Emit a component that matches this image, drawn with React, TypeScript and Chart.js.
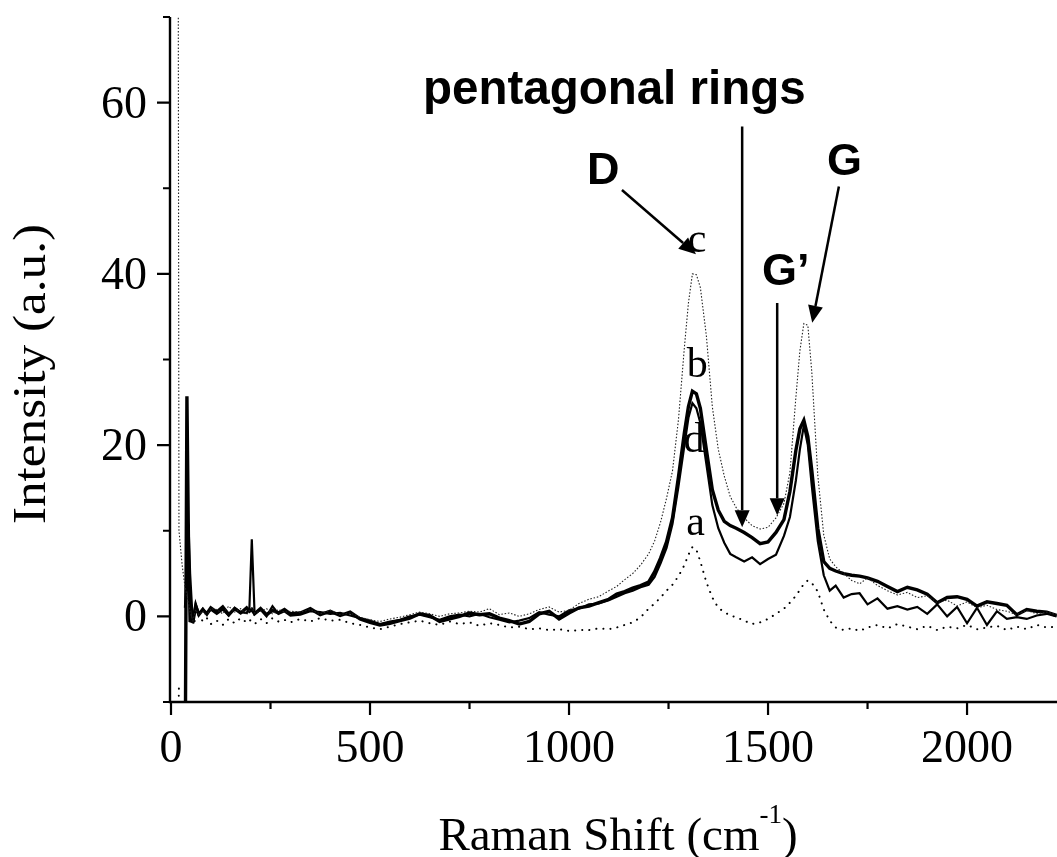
import { useEffect, useRef } from "react";
import { Chart, registerables } from "chart.js";

Chart.register(...registerables);

// Raman shift (cm-1) sample positions
const ramanShift = [
  12, 20, 28, 35, 40, 44, 48, 55, 62, 70, 80, 90, 100,
  115, 130, 145, 160, 175, 190, 197, 203, 210, 225, 240, 255, 270, 285, 300,
  325, 350, 375, 400, 425, 450, 475, 500, 525, 550, 575, 600, 625, 650, 675, 700,
  725, 750, 775, 800, 825, 850, 875, 900, 925, 950, 975, 1000, 1025, 1050, 1075, 1100,
  1120, 1140, 1160, 1180, 1200, 1215, 1230, 1245, 1260, 1275, 1290, 1300, 1310, 1320, 1330,
  1345, 1360, 1375, 1390, 1405, 1420, 1440, 1460, 1480, 1500, 1520, 1540, 1555, 1570, 1580,
  1590, 1600, 1610, 1625, 1640, 1655, 1670, 1690, 1710, 1730, 1750, 1775, 1800, 1825, 1850,
  1875, 1900, 1925, 1950, 1975, 2000, 2025, 2050, 2075, 2100, 2125, 2150, 2175, 2200, 2225,
];

// spectrum a (sparse dotted)
const spectrumA = [
  -30, -8, null, null, null, null, 0.5, -0.8, -0.4, 0.2, -0.6, -0.2, -0.9,
  -0.5, -1.0, -0.3, -0.8, -0.2, -0.7, -0.4, -0.6, -0.9, -0.3, -0.8, -0.2, -0.6, -0.4, -0.7,
  -0.3, -0.6, -0.2, -0.5, -0.4, -0.8, -1.0, -1.3, -1.5, -1.2, -0.9, -0.7, -0.5, -0.8, -1.0, -0.6,
  -0.9, -0.7, -1.1, -0.8, -1.0, -1.3, -1.2, -1.5, -1.4, -1.6, -1.5, -1.7, -1.6, -1.6, -1.4, -1.5,
  -1.3, -1.0, -0.7, -0.1, 0.9, 1.5, 2.2, 3.0, 3.7, 4.7, 6.0, 7.2, 8.1, 7.8, 6.4,
  4.0, 2.2, 1.0, 0.5, 0.1, -0.1, -0.5, -0.9, -0.7, -0.3, 0.3, 0.9, 1.6, 2.4, 3.1,
  3.8, 4.2, 3.9, 2.9, 0.8, -0.5, -1.3, -1.6, -1.4, -1.7, -1.3, -1.0, -1.4, -0.9, -1.2,
  -1.5, -1.1, -1.6, -1.2, -1.4, -1.0, -1.5, -1.3, -1.1, -1.6, -1.2, -1.5, -1.0, -1.3, -1.2,
];

// spectrum b (thick solid)
const spectrumB = [
  -40, -35, -30, -25, 25.7, 8, -0.5, -0.6, 1.2, 0.2, 0.8, 0.3, 1.0,
  0.5, 1.1, 0.2, 0.9, 0.4, 1.0, 0.6, 0.8, 0.3, 0.9, 0.2, 0.7, 0.4, 0.8, 0.3,
  0.4, 0.9, 0.2, 0.6, 0.1, 0.5, -0.3, -0.7, -1.0, -0.8, -0.5, -0.2, 0.3, 0.1, -0.6, -0.3,
  0.0, 0.4, 0.2, 0.3, -0.2, -0.5, -0.9, -0.6, 0.3, 0.6, -0.3, 0.4, 1.0, 1.2, 1.6, 2.0,
  2.6, 2.9, 3.3, 3.6, 4.0, 5.2, 6.8, 8.7, 11.5, 16.3, 21.5, 24.5, 26.3, 26.0, 24.3,
  19.5, 14.8, 12.4, 11.1, 10.6, 10.3, 9.8, 9.2, 8.5, 8.7, 9.8, 11.3, 14.6, 19.4, 21.9,
  22.9, 21.0, 17.0, 10.3, 6.4, 5.6, 5.3, 5.0, 4.8, 4.7, 4.5, 4.1, 3.5, 2.9, 3.4,
  3.1, 2.6, 1.6, 2.2, 2.3, 2.0, 1.2, 1.7, 1.5, 1.3, 0.2, 0.8, 0.6, 0.5, 0.1,
];

// spectrum c (fine dotted)
const spectrumC = [
  300, 10, 6, 3.5, 2.5, 1.5, 0.5, -0.5, 0.8, 0.2, 0.6, 0.0, 0.9,
  0.8, 0.3, 1.2, 0.5, 0.9, 0.2, 0.7, 1.0, 0.4, 0.6, 0.9, 0.3, 0.8, 0.5, 0.6,
  0.5, 0.8, 0.3, 0.7, 0.2, 0.4, -0.1, -0.4, -0.6, -0.3, -0.1, 0.2, 0.5, 0.3, 0.0, 0.3,
  0.4, 0.6, 0.5, 0.9, 0.2, 0.4, 0.0, 0.3, 0.8, 1.1, 0.5, 0.7, 1.5, 2.0, 2.3, 3.0,
  3.5, 4.3, 5.0, 6.0, 7.3, 8.8, 11.0, 13.8, 17.0, 23.0, 31.5, 36.6, 40.0, 39.9, 38.4,
  32.8, 24.5, 19.5, 16.4, 14.0, 12.7, 11.5, 10.6, 10.2, 10.4, 11.5, 13.2, 16.8, 25.6, 31.0,
  34.2, 34.0, 28.5, 16.5, 9.5, 6.7, 5.8, 5.0, 4.2, 3.8, 4.5, 3.6, 3.0, 2.5, 2.8,
  2.2, 2.4, 1.6, 1.9, 1.2, 1.7, 1.0, 1.3, 0.8, 0.6, 0.2, 0.7, 0.3, 0.5, 0.2,
];

// spectrum d (thin solid)
const spectrumD = [
  null, null, null, 1.0, 6.0, 10.8, 5.0, -0.8, 1.5, 0.3, 0.9, 0.2, 0.8,
  0.3, 0.8, 0.1, 1.0, 0.5, 0.4, 1.0, 9.0, 0.3, 0.8, 0.0, 1.2, 0.3, 0.6, 0.1,
  0.2, 0.6, 0.5, 0.3, 0.4, 0.1, -0.2, -0.5, -0.9, -0.6, -0.4, 0.0, 0.2, -0.1, -0.4, 0.0,
  0.2, 0.0, 0.3, -0.1, -0.4, -0.7, -0.5, -0.2, 0.5, 0.2, 0.0, 0.7, 0.9, 1.4, 1.5, 1.9,
  2.3, 2.7, 3.0, 3.4, 3.7, 4.6, 6.2, 8.0, 10.8, 15.2, 20.0, 23.2, 24.9, 24.3, 22.6,
  17.8, 13.0, 10.3, 8.6, 7.3, 6.9, 6.4, 6.9, 6.1, 6.7, 7.2, 9.4, 11.6, 15.9, 19.5,
  22.3, 20.0, 15.2, 8.8, 4.8, 3.0, 3.6, 2.2, 2.6, 2.7, 1.4, 2.1, 0.9, 1.2, 0.8,
  1.1, 0.3, 1.4, 0.0, 1.1, -0.8, 1.0, -1.0, 0.6, -0.3, -0.1, -0.3, 0.1, 0.3, 0.0,
];

const xTickLabels = [0, 500, 1000, 1500, 2000];
const xMinorTicks = [250, 750, 1250, 1750];
const yTickLabels = [0, 20, 40, 60];
const yMinorTicks = [-10, 10, 30, 50, 70];

const X_MIN = 0;
const X_MAX = 2226;
const Y_MIN = -10;
const Y_MAX = 70;

const SERIF = '"Liberation Serif", "Times New Roman", serif';
const SANS = '"Liberation Sans", Arial, sans-serif';

// annotation texts (data coordinates)
const boldLabels = [
  { text: "pentagonal rings", x: 633, y: 59.8, size: 47.5 },
  { text: "D", x: 1045, y: 50.5, size: 45 },
  { text: "G", x: 1648, y: 51.6, size: 45 },
  { text: "G\u2019", x: 1485, y: 38.7, size: 45 },
];
const curveLabels = [
  { text: "c", x: 1322, y: 42.5 },
  { text: "b", x: 1322, y: 28.0 },
  { text: "d", x: 1314, y: 19.2 },
  { text: "a", x: 1318, y: 9.5 },
];
const arrows = [
  { x1: 1133, y1: 49.8, x2: 1319, y2: 42.3 },
  { x1: 1435, y1: 57.2, x2: 1435, y2: 10.4 },
  { x1: 1523, y1: 36.6, x2: 1523, y2: 11.8 },
  { x1: 1678, y1: 50.2, x2: 1611, y2: 34.3 },
];

function toPoints(ys: (number | null)[]) {
  return ramanShift.map((x, i) => ({ x, y: ys[i] }));
}

function drawArrow(ctx: CanvasRenderingContext2D, x1: number, y1: number, x2: number, y2: number) {
  const ang = Math.atan2(y2 - y1, x2 - x1);
  const L = 17;
  const W = 7.5;
  const bx = x2 - L * Math.cos(ang);
  const by = y2 - L * Math.sin(ang);
  ctx.beginPath();
  ctx.moveTo(x1, y1);
  ctx.lineTo(bx, by);
  ctx.stroke();
  ctx.beginPath();
  ctx.moveTo(x2, y2);
  ctx.lineTo(bx + W * Math.sin(ang), by - W * Math.cos(ang));
  ctx.lineTo(bx - W * Math.sin(ang), by + W * Math.cos(ang));
  ctx.closePath();
  ctx.fill();
}

const decorPlugin = {
  id: "decor",
  afterDatasetsDraw(chart: any) {
    const { ctx, chartArea, scales } = chart;
    const xs = scales.x;
    const ys = scales.y;
    ctx.save();
    ctx.strokeStyle = "#000";
    ctx.fillStyle = "#000";

    // axes lines
    const axX = chartArea.left - 1;
    const axY = chartArea.bottom;
    ctx.lineWidth = 2.4;
    ctx.beginPath();
    ctx.moveTo(axX, chartArea.top);
    ctx.lineTo(axX, axY + 1.2);
    ctx.moveTo(axX - 1.2, axY);
    ctx.lineTo(chartArea.right, axY);
    ctx.stroke();

    // y ticks
    ctx.lineWidth = 2.2;
    ctx.beginPath();
    yTickLabels.forEach((v) => {
      const py = ys.getPixelForValue(v);
      ctx.moveTo(axX, py);
      ctx.lineTo(axX - 13, py);
    });
    yMinorTicks.forEach((v) => {
      const py = ys.getPixelForValue(v);
      ctx.moveTo(axX, py);
      ctx.lineTo(axX - 7, py);
    });
    // x ticks
    xTickLabels.forEach((v) => {
      const px = xs.getPixelForValue(v);
      ctx.moveTo(px, axY);
      ctx.lineTo(px, axY + 13);
    });
    xMinorTicks.forEach((v) => {
      const px = xs.getPixelForValue(v);
      ctx.moveTo(px, axY);
      ctx.lineTo(px, axY + 7);
    });
    ctx.stroke();

    // tick labels
    ctx.font = `46px ${SERIF}`;
    ctx.textAlign = "right";
    ctx.textBaseline = "alphabetic";
    yTickLabels.forEach((v) => {
      const py = ys.getPixelForValue(v);
      ctx.fillText(String(v), axX - 23, py + 15);
    });
    ctx.textAlign = "center";
    xTickLabels.forEach((v) => {
      const px = xs.getPixelForValue(v);
      ctx.fillText(String(v), px, axY + 60);
    });

    // y title
    ctx.save();
    ctx.translate(45, 374);
    ctx.rotate(-Math.PI / 2);
    ctx.scale(1.09, 1);
    ctx.font = `47px ${SERIF}`;
    ctx.textAlign = "center";
    ctx.fillText("Intensity (a.u.)", 0, 0);
    ctx.restore();

    // x title with superscript
    const mainFont = `47px ${SERIF}`;
    const supFont = `27px ${SERIF}`;
    const part1 = "Raman Shift (cm";
    const sup = "-1";
    const part2 = ")";
    ctx.font = mainFont;
    const w1 = ctx.measureText(part1).width;
    const w3 = ctx.measureText(part2).width;
    ctx.font = supFont;
    const w2 = ctx.measureText(sup).width;
    const total = w1 + w2 + w3;
    const cx = 618;
    const baseY = 850;
    let sx = cx - total / 2;
    ctx.textAlign = "left";
    ctx.font = mainFont;
    ctx.fillText(part1, sx, baseY);
    sx += w1;
    ctx.font = supFont;
    ctx.fillText(sup, sx, baseY - 27);
    sx += w2;
    ctx.font = mainFont;
    ctx.fillText(part2, sx, baseY);

    // annotations
    ctx.textAlign = "left";
    boldLabels.forEach((l) => {
      ctx.font = `bold ${l.size}px ${SANS}`;
      ctx.fillText(l.text, xs.getPixelForValue(l.x), ys.getPixelForValue(l.y));
    });
    ctx.font = `42px ${SERIF}`;
    ctx.textAlign = "center";
    curveLabels.forEach((l) => {
      ctx.fillText(l.text, xs.getPixelForValue(l.x), ys.getPixelForValue(l.y));
    });
    ctx.lineWidth = 2.5;
    arrows.forEach((a) => {
      drawArrow(
        ctx,
        xs.getPixelForValue(a.x1),
        ys.getPixelForValue(a.y1),
        xs.getPixelForValue(a.x2),
        ys.getPixelForValue(a.y2)
      );
    });
    ctx.restore();
  },
};

export default function App() {
  const canvasRef = useRef<HTMLCanvasElement | null>(null);

  useEffect(() => {
    document.body.style.margin = "0";
    const canvas = canvasRef.current;
    if (!canvas) return;
    const chart = new Chart(canvas, {
      type: "line",
      data: {
        datasets: [
          {
            label: "c",
            data: toPoints(spectrumC),
            borderColor: "#222",
            borderWidth: 1.1,
            borderDash: [1.5, 1.8],
            pointRadius: 0,
            tension: 0,
          },
          {
            label: "a",
            data: toPoints(spectrumA),
            borderColor: "#000",
            borderWidth: 2,
            borderDash: [0.1, 7],
            borderCapStyle: "round",
            pointRadius: 0,
            tension: 0,
          },
          {
            label: "d",
            data: toPoints(spectrumD),
            borderColor: "#000",
            borderWidth: 2.2,
            pointRadius: 0,
            tension: 0,
          },
          {
            label: "b",
            data: toPoints(spectrumB),
            borderColor: "#000",
            borderWidth: 3.4,
            pointRadius: 0,
            tension: 0,
          },
        ],
      },
      options: {
        animation: false,
        responsive: false,
        devicePixelRatio: 1,
        layout: { padding: { top: 17, right: 0, left: 0, bottom: 0 } },
        plugins: {
          legend: { display: false },
          tooltip: { enabled: false },
          title: { display: false },
        },
        scales: {
          x: {
            type: "linear",
            min: X_MIN,
            max: X_MAX,
            grid: { display: false },
            border: { display: false },
            ticks: { display: false },
            afterFit: (s: any) => {
              s.height = 155;
            },
          },
          y: {
            type: "linear",
            min: Y_MIN,
            max: Y_MAX,
            grid: { display: false },
            border: { display: false },
            ticks: { display: false },
            afterFit: (s: any) => {
              s.width = 171;
            },
          },
        },
      },
      plugins: [decorPlugin],
    } as any);
    return () => chart.destroy();
  }, []);

  return <canvas ref={canvasRef} width={1057} height={857} style={{ display: "block" }} />;
}
